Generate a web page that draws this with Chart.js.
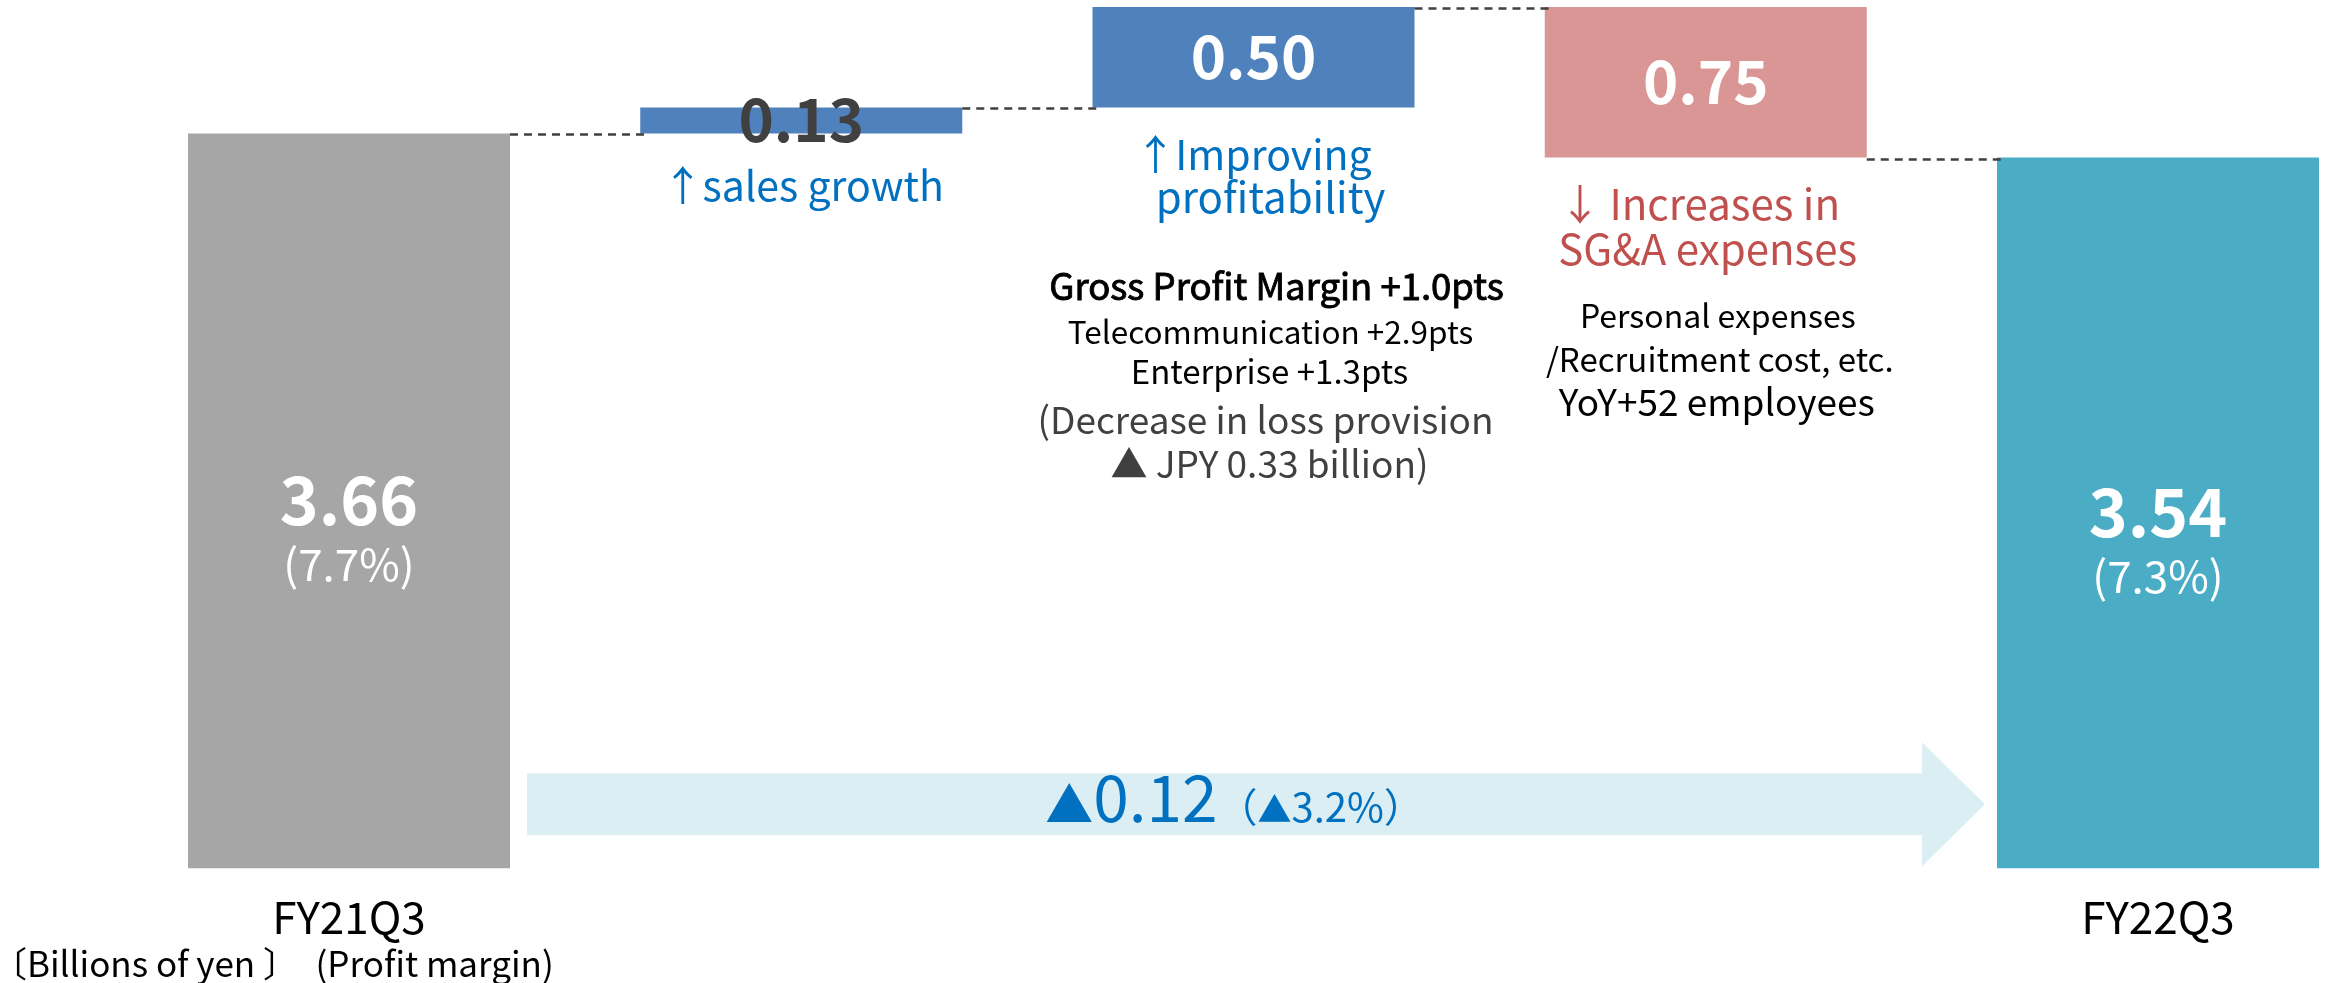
<!DOCTYPE html>
<html>
<head>
<meta charset="utf-8">
<script src="https://cdn.jsdelivr.net/npm/chart.js@4.4.1/dist/chart.umd.min.js"></script>
<style>
  html, body { margin: 0; padding: 0; background: #fff; }
</style>
</head>
<body>
<canvas id="bridge" width="2326" height="983"></canvas>
<script>
// data
const categories = ['FY21Q3', '', '', '', 'FY22Q3'];
const values = [3.66, 0.13, 0.50, -0.75, 3.54];
const barKinds = ['total', 'delta', 'delta', 'delta', 'total'];
const valueLabels = ['3.66', '0.13', '0.50', '0.75', '3.54'];
const marginLabels = ['(7.7%)', '', '', '', '(7.3%)'];
const yRange = [0, 4.3];
const diffParts = ['▲', '0.12', '（', '▲', '3.2%）'];
const unitNote = '〔Billions of yen 〕　(Profit margin)';

const FONT = '"Noto Sans CJK JP", "Noto Sans", sans-serif';
const COLORS = ['#a6a6a6', '#4f81bd', '#4f81bd', '#d99694', '#4bacc6'];

// floating ranges for the waterfall
let level = 0;
const ranges = values.map((v, i) => {
  if (barKinds[i] === 'total') { level = v; return [0, v]; }
  const r = [level, level + v];
  level += v;
  return r;
});

// text blocks around the delta bars (bar index, x shift, baseline, text, font, colour)
const notes = [
  { bar: 1, dx: 8,  y: 201, text: '↑sales growth', size: 41, weight: 400, color: '#0070c0' },
  { bar: 2, dx: 6,  y: 170, text: '↑Improving', size: 41, weight: 400, color: '#0070c0' },
  { bar: 2, dx: 17, y: 213, text: 'profitability', size: 42, weight: 400, color: '#0070c0' },
  { bar: 2, dx: 23, y: 300, text: 'Gross Profit Margin +1.0pts', size: 36.5, weight: 400, color: '#000', heavy: true },
  { bar: 2, dx: 17, y: 344, text: 'Telecommunication +2.9pts', size: 31.5, weight: 400, color: '#000' },
  { bar: 2, dx: 16, y: 384, text: 'Enterprise +1.3pts', size: 33, weight: 400, color: '#000' },
  { bar: 2, dx: 12, y: 434, text: '(Decrease in loss provision', size: 37, weight: 400, color: '#404040' },
  { bar: 2, dx: 16, y: 478, text: '▲ JPY 0.33 billion)', size: 37, weight: 400, color: '#404040' },
  { bar: 3, dx: 0,  y: 220, text: '↓ Increases in', size: 42, weight: 400, color: '#c0504d' },
  { bar: 3, dx: 2,  y: 265, text: 'SG&A expenses', size: 42, weight: 400, color: '#c0504d' },
  { bar: 3, dx: 12, y: 328, text: 'Personal expenses', size: 32, weight: 400, color: '#000' },
  { bar: 3, dx: 14, y: 372, text: '/Recruitment cost, etc.', size: 33, weight: 400, color: '#000' },
  { bar: 3, dx: 11, y: 416, text: 'YoY+52 employees', size: 37, weight: 400, color: '#000' }
];

function text(ctx, str, x, y, size, weight, color, align, heavy) {
  ctx.fillStyle = color;
  ctx.strokeStyle = color;
  ctx.textBaseline = 'alphabetic';
  ctx.font = weight + ' ' + size + 'px ' + FONT;
  const arrow = /^[↑↓]/.test(str) ? str[0] : '';
  if (!arrow) {
    ctx.textAlign = align || 'center';
    ctx.fillText(str, x, y);
    if (heavy) { ctx.lineWidth = 0.9; ctx.strokeText(str, x, y); }
    return;
  }
  // narrow arrow slot, then the rest of the line
  const rest = str.slice(1);
  const aw = size * 0.68;
  const rw = ctx.measureText(rest).width;
  const left = align === 'left' ? x : x - (aw + rw) / 2;
  ctx.textAlign = 'center';
  ctx.fillText(arrow, left + size * 0.2, y);
  ctx.textAlign = 'left';
  ctx.fillText(rest, left + aw, y);
}

const bridgePlugin = {
  id: 'bridge',
  beforeDatasetsDraw(chart) {
    // light blue arrow between the two totals
    const ctx = chart.ctx;
    const bars = chart.getDatasetMeta(0).data;
    const first = bars[0], last = bars[bars.length - 1];
    const x0 = first.x + first.width / 2 + 17;
    const x1 = last.x - last.width / 2 - 12;
    const cy = chart.chartArea.bottom - 64;
    const head = 63;
    ctx.save();
    ctx.fillStyle = '#daeef3';
    ctx.beginPath();
    ctx.moveTo(x0, cy - 31);
    ctx.lineTo(x1 - head, cy - 31);
    ctx.lineTo(x1 - head, cy - 62);
    ctx.lineTo(x1, cy);
    ctx.lineTo(x1 - head, cy + 62);
    ctx.lineTo(x1 - head, cy + 31);
    ctx.lineTo(x0, cy + 31);
    ctx.closePath();
    ctx.fill();

    // ▲0.12 (▲3.2%)
    const sizes = [48, 64, 40, 34, 40];
    let total = 0;
    const widths = diffParts.map((p, i) => {
      ctx.font = '400 ' + sizes[i] + 'px ' + FONT;
      const w = ctx.measureText(p).width;
      total += w;
      return w;
    });
    let x = (x0 + x1 - head) / 2 - total / 2 + 10;
    diffParts.forEach((p, i) => {
      text(ctx, p, x, cy + 18, sizes[i], 400, '#0070c0', 'left');
      x += widths[i];
    });
    ctx.restore();
  },
  afterDatasetsDraw(chart) {
    const ctx = chart.ctx;
    const bars = chart.getDatasetMeta(0).data;
    const y = chart.scales.y;
    ctx.save();

    // dashed connectors
    ctx.setLineDash([8, 6]);
    ctx.lineWidth = 2.5;
    ctx.strokeStyle = '#404040';
    for (let i = 0; i < bars.length - 1; i++) {
      const a = bars[i], b = bars[i + 1];
      const py = Math.round(y.getPixelForValue(ranges[i][1])) + 1.5;
      ctx.beginPath();
      ctx.moveTo(a.x + a.width / 2, py);
      ctx.lineTo(b.x - b.width / 2 + 4, py);
      ctx.stroke();
    }
    ctx.setLineDash([]);

    // value labels
    bars.forEach((bar, i) => {
      const top = Math.min(bar.y, bar.base), bottom = Math.max(bar.y, bar.base);
      const mid = (top + bottom) / 2;
      if (barKinds[i] === 'total') {
        text(ctx, valueLabels[i], bar.x, mid + 24.5, 66, 700, '#fff');
        text(ctx, marginLabels[i], bar.x, mid + 80, 44, 400, '#fff');
      } else {
        const thin = bottom - top < 60;
        text(ctx, valueLabels[i], bar.x, mid + 22, 60, 700, thin ? '#404040' : '#fff');
      }
    });

    // notes
    notes.forEach(n => {
      text(ctx, n.text, bars[n.bar].x + n.dx, n.y, n.size, n.weight, n.color, 'center', n.heavy);
    });

    // unit note
    text(ctx, unitNote, -8, 977, 35, 400, '#000', 'left');
    ctx.restore();
  }
};

new Chart(document.getElementById('bridge'), {
  type: 'bar',
  data: {
    labels: categories,
    datasets: [{
      data: ranges,
      backgroundColor: COLORS,
      borderWidth: 0,
      borderSkipped: false,
      categoryPercentage: 0.712,
      barPercentage: 1,
      clip: false
    }]
  },
  options: {
    responsive: false,
    animation: false,
    devicePixelRatio: 1,
    layout: { padding: { left: 349, right: 168, top: 5, bottom: 24 } },
    plugins: { legend: { display: false }, tooltip: { enabled: false } },
    scales: {
      x: {
        offset: false,
        grid: { display: false },
        border: { display: false },
        ticks: {
          autoSkip: false,
          maxRotation: 0,
          padding: 15,
          color: '#000',
          font: { family: FONT, size: 44 }
        }
      },
      y: { display: false, min: yRange[0], max: yRange[1] }
    }
  },
  plugins: [bridgePlugin]
});
</script>
</body>
</html>
